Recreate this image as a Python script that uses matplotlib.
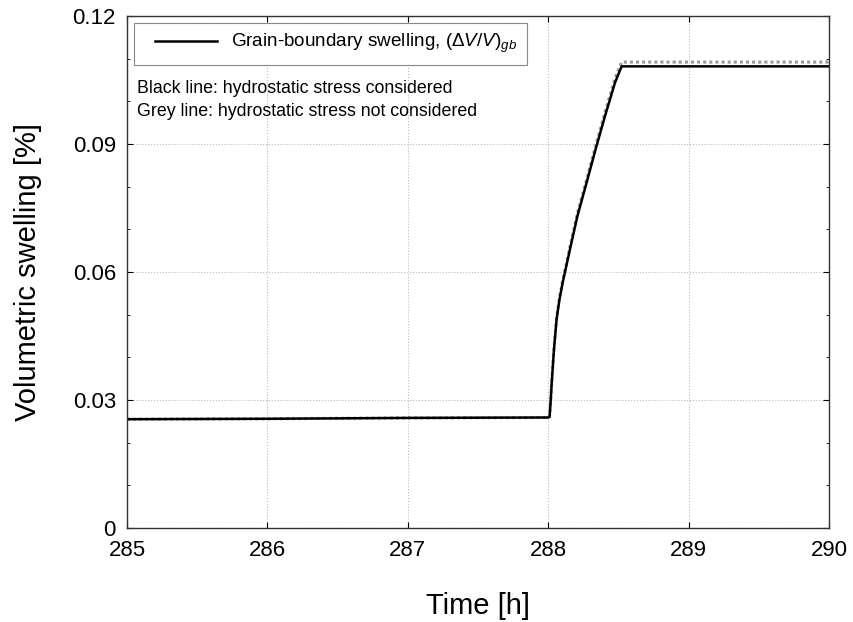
import matplotlib.pyplot as plt
from matplotlib.ticker import MultipleLocator
from matplotlib.lines import Line2D
from matplotlib.legend_handler import HandlerLine2D

plt.rcParams['font.family'] = ['Liberation Sans', 'DejaVu Sans']
plt.rcParams['mathtext.fontset'] = 'custom'
plt.rcParams['mathtext.rm'] = 'Liberation Sans'
plt.rcParams['mathtext.it'] = 'Liberation Sans:italic'

# time [h] and swelling [%]
time_h = [285.0, 286.0, 287.0, 288.0, 288.01, 288.018, 288.025, 288.041, 288.060, 288.080,
          288.103, 288.155, 288.208, 288.274, 288.338, 288.405, 288.476, 288.523, 289.0, 290.0]
swell_black = [0.0255, 0.0256, 0.0258, 0.0259, 0.0261, 0.0300, 0.0340, 0.0418, 0.0490, 0.0535,
               0.0575, 0.0653, 0.0731, 0.0810, 0.0888, 0.0966, 0.1044, 0.1082, 0.1082, 0.1082]
swell_grey = [0.0255, 0.0256, 0.0258, 0.0259, 0.0261, 0.0302, 0.0342, 0.0421, 0.0494, 0.0539,
              0.0580, 0.0659, 0.0738, 0.0817, 0.0896, 0.0975, 0.1054, 0.1092, 0.1092, 0.1092]

y_ticks = [0, 0.03, 0.06, 0.09, 0.12]
y_labels = ["0", "0.03", "0.06", "0.09", "0.12"]
x_ticks = [285, 286, 287, 288, 289, 290]

fig = plt.figure(figsize=(8.54, 6.22), dpi=100)
ax = fig.add_axes([127 / 854, 94 / 622, 702 / 854, 512 / 622])

ax.plot(time_h, swell_grey, color="#999999", linewidth=2.2, linestyle=(0, (1, 1)))
ax.plot(time_h, swell_black, color="black", linewidth=1.8,
        label=r"Grain-boundary swelling, $(\mathit{\Delta V/V})_{\mathit{gb}}$")

ax.set_xlim(285, 290)
ax.set_ylim(0, 0.12)
ax.set_xticks(x_ticks)
ax.set_yticks(y_ticks)
ax.set_yticklabels(y_labels)
ax.yaxis.set_minor_locator(MultipleLocator(0.01))
ax.tick_params(direction="in", top=True, right=True, labelsize=16, length=4)
ax.tick_params(axis="x", pad=9)
ax.tick_params(axis="y", pad=8)
ax.tick_params(which="minor", direction="in", right=True, left=True, length=2.5)

ax.grid(True, color="#bbbbbb", linestyle=":", linewidth=0.8)
for s in ax.spines.values():
    s.set_linewidth(1.0)
    s.set_color("#333333")

ax.set_xlabel("Time [h]", fontsize=21)
ax.set_ylabel("Volumetric swelling [%]", fontsize=21)
ax.xaxis.set_label_coords(0.5, -0.125)
ax.yaxis.set_label_coords(-0.121, 0.5)

# legend: short line, shifted right inside the box
leg = ax.legend(loc="upper left", fontsize=13.6, handlelength=3.9, handletextpad=0.78,
                fancybox=False, edgecolor="#888888", framealpha=1,
                borderaxespad=0.35, borderpad=0.5,
                handler_map={Line2D: HandlerLine2D(xpad=0.64)})
leg.get_frame().set_linewidth(0.8)

ax.text(0.014, 0.858, "Black line: hydrostatic stress considered", transform=ax.transAxes,
        fontsize=12.8, va="center")
ax.text(0.014, 0.813, "Grey line: hydrostatic stress not considered", transform=ax.transAxes,
        fontsize=12.8, va="center")

plt.savefig("out.png", dpi=100)
